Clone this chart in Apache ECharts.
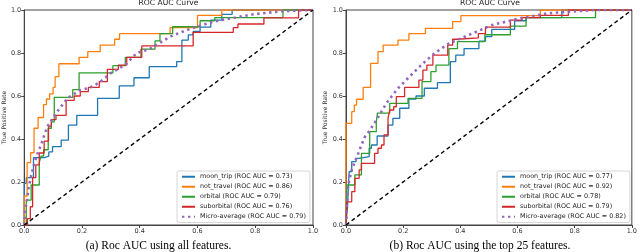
<!DOCTYPE html>
<html>
<head>
<meta charset="utf-8">
<script src="https://cdn.jsdelivr.net/npm/echarts@6/dist/echarts.min.js"></script>
<style>html,body{margin:0;padding:0;background:#fff}#c{width:640px;height:252px}</style>
</head>
<body>
<div id="c"></div>
<script>
// ---- data ----
const xTicks = [0, 0.2, 0.4, 0.6, 0.8, 1.0];
const namesA = ['moon_trip (ROC AUC = 0.73)', 'not_travel (ROC AUC = 0.86)', 'orbital (ROC AUC = 0.79)', 'suborbital (ROC AUC = 0.76)', 'Micro-average (ROC AUC = 0.79)'];
const namesB = ['moon_trip (ROC AUC = 0.77)', 'not_travel (ROC AUC = 0.92)', 'orbital (ROC AUC = 0.78)', 'suborbital (ROC AUC = 0.79)', 'Micro-average (ROC AUC = 0.82)'];

// (a) all features — step points [fpr, tpr]
const aMoon = [[0,0],[0,0.194],[0.007,0.22],[0.032,0.313],[0.07,0.32],[0.085,0.34],[0.098,0.365],[0.128,0.395],[0.153,0.465],[0.182,0.51],[0.254,0.589],[0.329,0.647],[0.38,0.685],[0.433,0.737],[0.528,0.76],[0.546,0.86],[0.568,0.884],[0.585,0.9],[0.609,0.92],[0.646,0.953],[0.684,0.98],[0.72,1.0],[1,1]];
const aNot = [[0,0],[0,0.135],[0.01,0.29],[0.022,0.336],[0.034,0.45],[0.048,0.5],[0.067,0.56],[0.077,0.586],[0.088,0.61],[0.1,0.64],[0.107,0.69],[0.12,0.75],[0.19,0.78],[0.22,0.806],[0.263,0.837],[0.313,0.864],[0.33,0.89],[0.505,0.918],[0.6,0.975],[0.684,1.0],[1,1]];
const aOrb = [[0,0],[0.007,0.116],[0.024,0.186],[0.052,0.29],[0.058,0.32],[0.067,0.35],[0.083,0.45],[0.094,0.48],[0.104,0.594],[0.168,0.63],[0.19,0.708],[0.307,0.741],[0.35,0.78],[0.404,0.818],[0.453,0.856],[0.47,0.89],[0.514,0.922],[0.609,0.95],[0.66,0.965],[0.896,1.0],[1,1]];
const aSub = [[0,0],[0.011,0.03],[0.021,0.085],[0.029,0.22],[0.04,0.28],[0.052,0.335],[0.069,0.39],[0.084,0.46],[0.094,0.49],[0.11,0.51],[0.145,0.58],[0.173,0.6],[0.194,0.62],[0.222,0.64],[0.26,0.667],[0.288,0.724],[0.326,0.744],[0.355,0.78],[0.407,0.833],[0.585,0.896],[0.724,0.918],[0.74,0.935],[0.83,0.963],[0.95,1.0],[1,1]];
const aMicro = [[0,0],[0.003,0.07],[0.009,0.108],[0.015,0.17],[0.023,0.225],[0.035,0.287],[0.046,0.333],[0.058,0.372],[0.07,0.42],[0.08,0.457],[0.11,0.52],[0.15,0.59],[0.19,0.625],[0.23,0.64],[0.263,0.665],[0.298,0.705],[0.35,0.745],[0.39,0.8],[0.436,0.82],[0.505,0.876],[0.563,0.907],[0.655,0.946],[0.793,0.98],[0.897,0.995],[1,1]];

// (b) top 25 features
const bMoon = [[0,0],[0.002,0.04],[0.005,0.078],[0.011,0.248],[0.02,0.295],[0.035,0.31],[0.046,0.318],[0.081,0.357],[0.089,0.372],[0.109,0.414],[0.147,0.465],[0.164,0.496],[0.188,0.543],[0.22,0.586],[0.245,0.6],[0.274,0.636],[0.32,0.662],[0.365,0.76],[0.384,0.79],[0.413,0.82],[0.465,0.855],[0.488,0.876],[0.51,0.91],[0.59,0.95],[0.63,0.965],[0.755,1.0],[1,1]];
const bNot = [[0,0],[0,0.473],[0.02,0.527],[0.029,0.558],[0.037,0.585],[0.06,0.64],[0.086,0.752],[0.112,0.806],[0.13,0.837],[0.182,0.86],[0.22,0.89],[0.278,0.915],[0.373,0.946],[0.402,0.974],[0.68,1.0],[1,1]];
const bOrb = [[0,0],[0.003,0.186],[0.031,0.233],[0.054,0.333],[0.083,0.434],[0.106,0.48],[0.11,0.52],[0.153,0.566],[0.217,0.589],[0.266,0.667],[0.297,0.713],[0.315,0.744],[0.36,0.82],[0.39,0.853],[0.486,0.885],[0.575,0.925],[0.63,0.965],[0.873,1.0],[1,1]];
const bSub = [[0,0],[0.003,0.108],[0.02,0.155],[0.031,0.217],[0.046,0.256],[0.054,0.287],[0.1,0.333],[0.112,0.357],[0.124,0.372],[0.133,0.419],[0.147,0.496],[0.153,0.535],[0.167,0.55],[0.176,0.597],[0.205,0.64],[0.255,0.674],[0.269,0.72],[0.283,0.744],[0.304,0.79],[0.356,0.837],[0.373,0.864],[0.39,0.87],[0.463,0.89],[0.488,0.92],[0.575,0.953],[0.616,0.965],[0.68,0.975],[0.778,1.0],[1,1]];
const bMicro = [[0,0],[0.002,0.04],[0.003,0.1],[0.006,0.16],[0.01,0.2],[0.02,0.256],[0.031,0.294],[0.043,0.333],[0.054,0.372],[0.066,0.41],[0.083,0.44],[0.098,0.47],[0.124,0.527],[0.141,0.566],[0.182,0.636],[0.222,0.69],[0.263,0.744],[0.309,0.798],[0.361,0.845],[0.43,0.884],[0.511,0.93],[0.604,0.96],[0.708,0.985],[0.87,1.0],[1,1]];
const diag = [[0,0],[1,1]];

// ---- styling ----
const colors = ['#1f77b4', '#ff7f0e', '#2ca02c', '#d62728', '#9467bd'];
const FONT = 'DejaVu Sans';
const chart = echarts.init(document.getElementById('c'), null, {renderer: 'canvas'});

function axesFor(i) {
  const axisCommon = {
    type: 'value', min: 0, max: 1, interval: 0.2,
    gridIndex: i,
    axisLine: {show: true, lineStyle: {color: '#444', width: 1}},
    axisTick: {show: true, length: 3, lineStyle: {color: '#444'}},
    axisLabel: {fontSize: 6.5, color: '#333', fontFamily: FONT, margin: 3, formatter: v => v.toFixed(1)},
    splitLine: {show: false}
  };
  return {
    x: Object.assign({}, axisCommon),
    y: Object.assign({}, axisCommon, {
      name: 'True Positive Rate', nameLocation: 'middle', nameRotate: 90, nameGap: 17,
      nameTextStyle: {fontSize: 6, color: '#333', fontFamily: FONT}
    })
  };
}
const ax0 = axesFor(0), ax1 = axesFor(1);

function curves(list, names, gi) {
  const out = [];
  list.forEach((d, k) => {
    const micro = k === 4;
    out.push({
      type: 'line', name: names[k], xAxisIndex: gi, yAxisIndex: gi,
      data: d, step: micro ? false : 'end', symbol: 'none', showSymbol: false,
      lineStyle: micro ? {color: colors[k], width: 2.6, type: [2.4, 3.6]} : {color: colors[k], width: 1.3},
      itemStyle: {color: colors[k]},
      z: 3 + k
    });
  });
  out.push({
    type: 'line', name: 'diag' + gi, xAxisIndex: gi, yAxisIndex: gi, data: diag,
    symbol: 'none', lineStyle: {color: '#000', width: 1.4, type: [4, 3]}, z: 9
  });
  return out;
}

const legendCommon = {
  orient: 'vertical', top: 171,
  borderColor: '#ccc', borderWidth: 0.8, borderRadius: 2, backgroundColor: 'rgba(255,255,255,0.85)',
  padding: [2, 4, 2, 4], itemWidth: 13, itemHeight: 6, itemGap: 2.5,
  itemStyle: {opacity: 0, borderWidth: 0},
  textStyle: {fontSize: 6.4, color: '#222', fontFamily: FONT, lineHeight: 7.5},
  selectedMode: false
};

const option = {
  animation: false,
  backgroundColor: '#fff',
  grid: [
    {left: 24, top: 10, width: 289, height: 215, show: true, borderColor: '#444', borderWidth: 1},
    {left: 346, top: 10, width: 288, height: 215, show: true, borderColor: '#444', borderWidth: 1}
  ],
  xAxis: [ax0.x, ax1.x],
  yAxis: [ax0.y, ax1.y],
  legend: [
    Object.assign({}, legendCommon, {left: 177, data: namesA}),
    Object.assign({}, legendCommon, {left: 497, data: namesB})
  ],
  series: curves([aMoon, aNot, aOrb, aSub, aMicro], namesA, 0).concat(curves([bMoon, bNot, bOrb, bSub, bMicro], namesB, 1)),
  graphic: [
    {type: 'text', x: 168.5, y: 3, style: {text: 'ROC AUC Curve', fontSize: 7.6, fontFamily: FONT, fill: '#222', textAlign: 'center', textVerticalAlign: 'middle', align: 'center', verticalAlign: 'middle'}},
    {type: 'text', x: 490, y: 3, style: {text: 'ROC AUC Curve', fontSize: 7.6, fontFamily: FONT, fill: '#222', textAlign: 'center', textVerticalAlign: 'middle', align: 'center', verticalAlign: 'middle'}},
    {type: 'text', x: 158.5, y: 246, style: {text: '(a) Roc AUC using all features.', fontSize: 11.5, fontFamily: 'Liberation Serif', fill: '#000', textAlign: 'center', textVerticalAlign: 'middle', align: 'center', verticalAlign: 'middle'}},
    {type: 'text', x: 480, y: 246, style: {text: '(b) Roc AUC using the top 25 features.', fontSize: 11.5, fontFamily: 'Liberation Serif', fill: '#000', textAlign: 'center', textVerticalAlign: 'middle', align: 'center', verticalAlign: 'middle'}}
  ]
};
chart.setOption(option);
</script>
</body>
</html>
